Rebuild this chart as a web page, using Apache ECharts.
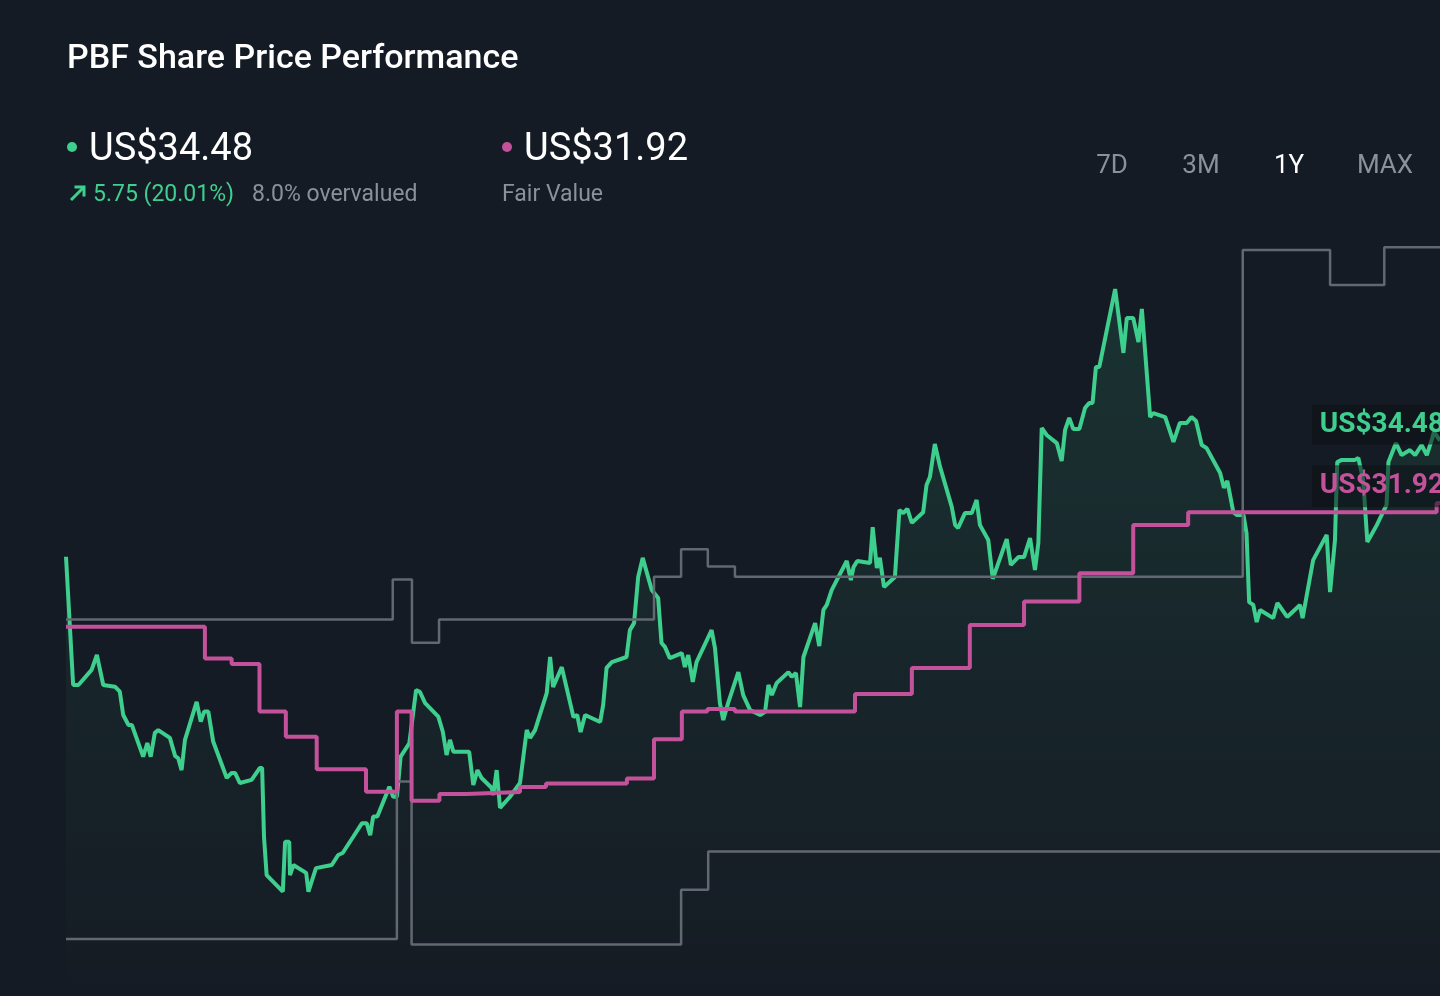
<!DOCTYPE html>
<html>
<head>
<meta charset="utf-8">
<script src="https://cdn.jsdelivr.net/npm/echarts@6/dist/echarts.min.js"></script>
<style>
  html, body { margin: 0; padding: 0; background: #151b24; }
  #chart { width: 1440px; height: 996px; }
</style>
</head>
<body>
<div id="chart"></div>
<script>
// ---- DATA (day offset within the 1Y window, US$) ----
const chartTitle = 'PBF Share Price Performance';
const lastPrice = 34.48;
const fairValue = 31.92;
const priceChange = '5.75 (20.01%)';
const valuationText = '8.0% overvalued';
const fairValueCaption = 'Fair Value';
const periodLabels = ['7D', '3M', '1Y', 'MAX'];
const activePeriod = '1Y';

const priceHistory = [
  [0,30.33],[1.9,25.75],[3.3,25.75],[6.8,26.29],[8.2,26.82],[9.9,25.75],[13.0,25.69],[14.3,25.51],
  [15.2,24.68],[16.6,24.32],[17.5,24.32],[20.5,23.19],[21.6,23.68],[22.5,23.19],[23.6,24.04],[24.5,24.14],
  [27.6,23.86],[29.0,23.21],[29.8,23.14],[30.7,22.71],[31.6,23.79],[34.7,25.15],[35.8,24.44],[36.7,24.80],
  [37.8,24.80],[39.1,23.73],[42.7,22.43],[44.0,22.61],[44.9,22.61],[46.2,22.25],[49.3,22.36],[51.5,22.79],
  [52.1,22.79],[52.6,20.33],[53.3,18.96],[57.6,18.37],[58.2,20.15],[59.3,20.15],[59.5,18.96],[60.4,19.32],
  [63.8,19.04],[64.4,18.37],[66.4,19.21],[70.6,19.32],[72.3,19.68],[73.5,19.75],[76.3,20.33],[78.6,20.81],
  [79.9,20.81],[80.8,20.39],[81.6,21.05],[82.7,21.05],[85.9,22.12],[86.9,21.76],[87.9,21.76],[88.9,23.19],
  [91.2,23.67],[93.0,25.57],[94.0,25.51],[95.4,25.10],[98.9,24.62],[100.1,24.08],[101.1,23.25],[102.0,23.79],
  [102.9,23.37],[107.1,23.37],[108.2,22.18],[109.3,22.71],[110.4,22.43],[113.1,22.07],[113.5,21.82],[114.4,22.71],
  [115.3,21.36],[117.9,21.75],[120.6,22.25],[122.4,24.14],[123.3,23.86],[124.6,24.14],[127.7,25.46],[128.6,26.75],
  [129.4,25.68],[131.7,26.39],[134.8,24.61],[135.8,24.68],[136.7,24.07],[137.9,24.68],[141.9,24.43],[142.7,25.04],
  [143.6,26.36],[145.0,26.57],[148.9,26.75],[149.8,27.71],[150.9,27.96],[152.0,29.61],[153.2,30.29],[155.6,29.14],
  [157.3,28.86],[158.2,27.25],[159.1,27.11],[160.4,26.71],[163.6,26.89],[164.4,26.39],[165.3,26.82],[166.5,25.86],
  [167.5,26.57],[171.5,27.71],[172.4,27.07],[173.7,25.11],[174.6,24.50],[175.9,25.11],[178.6,26.21],[179.9,25.39],
  [181.7,24.86],[184.4,24.68],[185.7,24.79],[186.6,25.75],[187.5,25.39],[188.8,25.82],[191.9,26.21],[192.8,26.04],
  [193.9,26.18],[195.0,24.96],[195.9,26.75],[199.0,27.96],[200.1,27.14],[201.2,28.43],[202.1,28.61],[203.4,29.14],
  [205.2,29.61],[207.4,30.18],[208.5,29.50],[209.2,29.96],[210.2,30.18],[213.6,30.11],[214.3,31.39],[215.4,29.93],
  [216.2,30.29],[217.3,29.25],[220.2,29.61],[221.4,32.00],[222.4,31.89],[223.5,32.04],[224.7,31.54],[227.7,31.92],
  [228.6,32.89],[229.5,33.18],[230.8,34.36],[232.2,33.54],[235.3,32.11],[236.2,31.46],[237.0,31.36],[238.8,31.89],
  [240.6,31.89],[241.9,32.36],[242.8,31.46],[245.0,30.93],[246.2,29.54],[249.9,30.96],[251.0,30.04],[253.0,30.32],
  [254.5,30.32],[256.1,31.00],[257.4,29.86],[258.3,30.82],[259.2,34.93],[260.5,34.68],[263.2,34.39],[264.5,33.75],
  [265.4,34.86],[266.5,35.29],[267.6,34.89],[269.2,34.89],[270.7,35.64],[271.8,35.82],[272.7,35.82],[273.6,37.11],
  [274.5,37.11],[278.7,39.89],[280.9,37.61],[281.8,38.86],[283.5,38.86],[284.9,38.00],[285.8,39.18],[288.0,35.32],
  [288.8,35.46],[292.0,35.32],[294.2,34.43],[295.9,35.11],[297.7,35.11],[299.0,35.32],[300.2,35.18],[301.7,34.32],
  [303.0,34.21],[306.6,33.32],[307.6,32.79],[308.5,33.04],[310.1,31.92],[311.0,31.82],[312.8,31.82],[313.6,31.18],
  [314.3,28.71],[315.4,28.61],[316.3,28.00],[317.2,28.43],[320.7,28.14],[321.8,28.68],[324.4,28.18],[327.8,28.61],
  [328.5,28.14],[331.3,30.21],[334.9,31.11],[335.8,29.07],[337.1,30.93],[337.7,33.71],[338.9,33.79],[342.4,33.79],
  [343.3,33.86],[344.6,33.07],[345.7,30.86],[348.2,31.46],[350.8,32.18],[351.3,33.71],[353.3,34.39],[354.8,33.96],
  [357.0,34.14],[358.4,33.96],[360.1,34.32],[361.5,33.96],[362.8,34.50],[363.4,34.79],[365,34.48]
];

const fairValueHistory = [
  [0,27.83],[36.9,26.70],[44.0,26.50],[51.4,24.80],[58.4,23.90],[66.6,22.74],[79.7,21.94],[87.9,24.80],
  [91.8,21.62],[99.2,21.86],[106.3,21.93],[120.6,22.11],[127.5,22.23],[149.0,22.41],[156.2,23.81],[163.6,24.80],
  [170.4,24.89],[177.7,24.80],[209.6,25.43],[224.7,26.36],[240.1,27.89],[254.5,28.73],[269.2,29.74],[283.5,31.46],
  [298.1,31.92],[364.1,32.25],[365,32.25]
];

const upperBand = [
  [0,28.09],[86.8,29.52],[91.9,27.26],[99.1,28.09],[156.2,29.62],[163.4,30.60],[170.5,29.98],[177.7,29.62],
  [312.6,41.29],[335.8,40.04],[350.2,41.38],[365,41.38]
];

const lowerBand = [
  [0,16.68],[87.9,22.30],[91.8,16.48],[163.4,18.44],[170.6,19.80],[365,19.80]
];

// ---- STYLE ----
const GREEN = '#3ecf8e';
const PINK = '#c4529b';
const GRAY_LINE = '#626871';
const GRAY_TEXT = '#8b9099';
const FONT = 'Roboto, "Noto Sans", sans-serif';

const chart = echarts.init(document.getElementById('chart'), null, { renderer: 'canvas' });

const periodX = [1112, 1201, 1289, 1385];

const graphics = [
  { type: 'text', x: 67, y: 59, style: { text: chartTitle, fill: '#ffffff', font: '500 34px ' + FONT, textVerticalAlign: 'middle' } },
  { type: 'circle', shape: { cx: 72, cy: 147, r: 5 }, style: { fill: GREEN } },
  { type: 'text', x: 89, y: 150, style: { text: 'US$' + lastPrice.toFixed(2), fill: '#ffffff', font: '400 38px ' + FONT, textVerticalAlign: 'middle' } },
  { type: 'polyline', shape: { points: [[71, 200], [84, 187]] }, style: { stroke: GREEN, lineWidth: 3, fill: null } },
  { type: 'polyline', shape: { points: [[74.5, 187], [84, 187], [84, 196.5]] }, style: { stroke: GREEN, lineWidth: 3, fill: null } },
  { type: 'text', x: 93, y: 195, style: { text: priceChange, fill: GREEN, font: '400 23px ' + FONT, textVerticalAlign: 'middle' } },
  { type: 'text', x: 252, y: 195, style: { text: valuationText, fill: GRAY_TEXT, font: '400 23px ' + FONT, textVerticalAlign: 'middle' } },
  { type: 'circle', shape: { cx: 507, cy: 147, r: 5 }, style: { fill: PINK } },
  { type: 'text', x: 524, y: 150, style: { text: 'US$' + fairValue.toFixed(2), fill: '#ffffff', font: '400 38px ' + FONT, textVerticalAlign: 'middle' } },
  { type: 'text', x: 502, y: 195, style: { text: fairValueCaption, fill: GRAY_TEXT, font: '400 23px ' + FONT, textVerticalAlign: 'middle' } }
];
periodLabels.forEach((p, i) => {
  graphics.push({ type: 'text', x: periodX[i], y: 166, style: { text: p, fill: p === activePeriod ? '#ffffff' : GRAY_TEXT, font: '400 26px ' + FONT, textAlign: 'center', textVerticalAlign: 'middle' } });
});

const option = {
  backgroundColor: '#151b24',
  animation: false,
  graphic: graphics,
  grid: { left: 66, right: 0, top: 230, bottom: 0 },
  xAxis: { type: 'value', min: 0, max: 365, show: false, splitLine: { show: false } },
  yAxis: { type: 'value', min: 14.643, max: 42, show: false, splitLine: { show: false } },
  series: [
    {
      name: 'Share Price', type: 'line', data: priceHistory, symbol: 'none', z: 2,
      lineStyle: { color: GREEN, width: 4 },
      areaStyle: {
        color: new echarts.graphic.LinearGradient(0, 0, 0, 1, [
          { offset: 0, color: 'rgba(62,207,142,0.19)' },
          { offset: 0.6, color: 'rgba(62,207,142,0.07)' },
          { offset: 1, color: 'rgba(62,207,142,0.0)' }
        ])
      },
      markPoint: {
        symbol: 'circle', symbolSize: 0, silent: true,
        data: [{ coord: [365, lastPrice] }],
        label: {
          show: true, position: 'left', distance: 0, offset: [10, -16],
          formatter: () => 'US$' + lastPrice.toFixed(2),
          color: GREEN, fontFamily: FONT, fontSize: 28, fontWeight: 'bold', lineHeight: 28,
          backgroundColor: 'rgba(12,16,22,0.55)', padding: [6, 6, 6, 8]
        }
      }
    },
    {
      name: 'Upper', type: 'line', step: 'end', data: upperBand, symbol: 'none', z: 3,
      lineStyle: { color: GRAY_LINE, width: 2.5 }
    },
    {
      name: 'Lower', type: 'line', step: 'end', data: lowerBand, symbol: 'none', z: 3,
      lineStyle: { color: GRAY_LINE, width: 2.5 }
    },
    {
      name: 'Fair Value', type: 'line', step: 'end', data: fairValueHistory, symbol: 'none', z: 4,
      lineStyle: { color: PINK, width: 4 },
      markPoint: {
        symbol: 'circle', symbolSize: 0, silent: true,
        data: [{ coord: [365, fairValue] }],
        label: {
          show: true, position: 'left', distance: 0, offset: [10, -26],
          formatter: () => 'US$' + fairValue.toFixed(2),
          color: PINK, fontFamily: FONT, fontSize: 28, fontWeight: 'bold', lineHeight: 28,
          backgroundColor: 'rgba(12,16,22,0.55)', padding: [7, 6, 7, 8]
        }
      }
    }
  ]
};
chart.setOption(option);
</script>
</body>
</html>
